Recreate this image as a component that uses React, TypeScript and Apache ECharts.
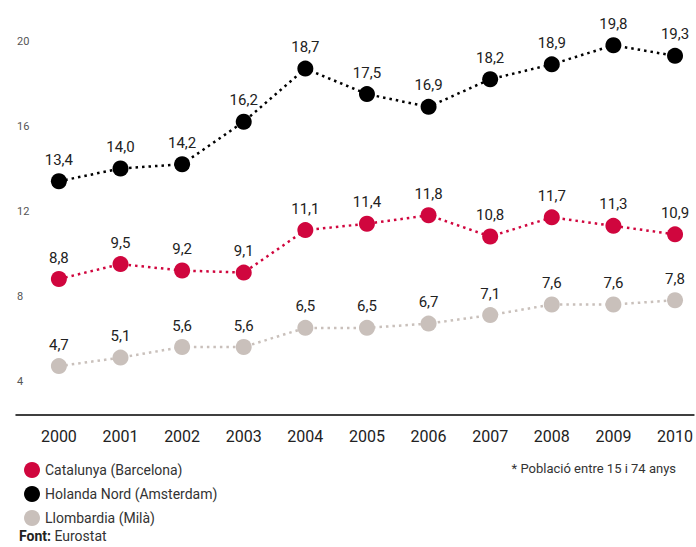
import React, { useEffect, useRef } from "react";
import * as echarts from "echarts";

const years = ["2000", "2001", "2002", "2003", "2004", "2005", "2006", "2007", "2008", "2009", "2010"];
const catalunya = [8.8, 9.5, 9.2, 9.1, 11.1, 11.4, 11.8, 10.8, 11.7, 11.3, 10.9];
const holanda = [13.4, 14.0, 14.2, 16.2, 18.7, 17.5, 16.9, 18.2, 18.9, 19.8, 19.3];
const llombardia = [4.7, 5.1, 5.6, 5.6, 6.5, 6.5, 6.7, 7.1, 7.6, 7.6, 7.8];
const yTicks = [4, 8, 12, 16, 20];
const seriesNames = ["Catalunya (Barcelona)", "Holanda Nord (Amsterdam)", "Llombardia (Milà)"];
const colors = ["#d0063e", "#000000", "#c9c0bb"];
const note = "* Població entre 15 i 74 anys";
const source = "Eurostat";

const FONT = "Roboto, 'DejaVu Sans', sans-serif";

export default function App() {
  const ref = useRef<HTMLDivElement>(null);
  useEffect(() => {
    if (!ref.current) return;
    const chart = echarts.init(ref.current, undefined, { renderer: "svg" });
    const mk = (name: string, vals: number[], color: string, z: number) => ({
      name,
      type: "line",
      z,
      data: years.map((y, i) => [Number(y), vals[i]]),
      symbol: "circle",
      symbolSize: 16,
      itemStyle: { color },
      lineStyle: { color, width: 2.5, type: [2.5, 4] },
      label: {
        show: true,
        position: "top",
        distance: 6,
        fontFamily: FONT,
        fontSize: 15,
        color: "#222",
        formatter: (p: any) => p.value[1].toFixed(1).replace(".", ","),
      },
    });
    chart.setOption({
      animation: false,
      textStyle: { fontFamily: FONT },
      grid: { left: 16, right: 0, top: 7, bottom: 132, containLabel: false },
      xAxis: {
        type: "value",
        min: 1999.304,
        max: 2010.307,
        axisLine: { show: true, lineStyle: { color: "#000", width: 1.5 } },
        axisTick: { show: false },
        splitLine: { show: false },
        axisLabel: {
          customValues: years.map(Number),
          formatter: (v: number) => String(v),
          fontFamily: FONT,
          fontSize: 16,
          color: "#222",
          margin: 13,
        },
      },
      yAxis: {
        type: "value",
        min: 2.4,
        max: 21.6,
        axisLine: { show: false },
        axisTick: { show: false },
        splitLine: { show: false },
        axisLabel: {
          customValues: yTicks,
          inside: true,
          margin: 1,
          align: "left",
          fontFamily: FONT,
          fontSize: 11,
          color: "#555",
        },
      },
      legend: {
        orient: "vertical",
        left: 19,
        top: 457,
        icon: "circle",
        itemWidth: 16,
        itemHeight: 16,
        itemGap: 8,
        data: seriesNames,
        textStyle: { fontFamily: FONT, fontSize: 14, color: "#333", padding: [0, 0, 0, 0] },
      },
      graphic: [
        {
          type: "text",
          right: 20,
          top: 462,
          style: { text: note, fontFamily: FONT, fontSize: 13, fill: "#333" },
        },
        {
          type: "text",
          left: 19,
          top: 529,
          style: {
            text: "{b|Font:} " + source,
            fontFamily: FONT,
            fontSize: 14,
            fill: "#333",
            rich: { b: { fontWeight: "bold", fontFamily: FONT, fontSize: 14, fill: "#222" } },
          },
        },
      ],
      series: [
        mk(seriesNames[2], llombardia, colors[2], 2),
        mk(seriesNames[0], catalunya, colors[0], 3),
        mk(seriesNames[1], holanda, colors[1], 4),
      ],
    });
    return () => chart.dispose();
  }, []);
  return <div ref={ref} style={{ position: "fixed", left: 0, top: 0, width: 696, height: 547, background: "#fff" }} />;
}
